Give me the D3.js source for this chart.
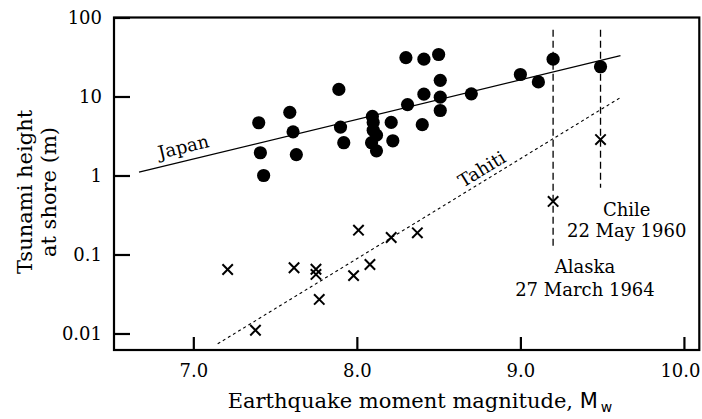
<!DOCTYPE html>
<html>
<head>
<meta charset="utf-8">
<script src="https://cdn.jsdelivr.net/npm/d3@7"></script>
<style>
  html, body { margin: 0; padding: 0; background: #fff; }
  text { font-family: "DejaVu Serif", serif; fill: #000; }
</style>
</head>
<body>
<svg id="chart" width="702" height="419"></svg>
<script>
// ---- data (magnitude Mw, tsunami height m) ----
const japanM = [7.40, 7.41, 7.43, 7.59, 7.61, 7.63, 7.89, 7.90, 7.92,
  8.095, 8.10, 8.10, 8.12, 8.09, 8.12, 8.21, 8.22, 8.30, 8.31, 8.40, 8.41, 8.41,
  8.50, 8.51, 8.51, 8.51, 8.70, 9.00, 9.11, 9.20, 9.49];
const japanH = [4.65, 1.94, 1.0, 6.3, 3.57, 1.84, 12.3, 4.1, 2.6,
  5.6, 4.7, 3.74, 3.24, 2.6, 2.05, 4.7, 2.75, 31, 7.9, 4.4, 29.7, 10.7,
  34, 16, 9.8, 6.65, 10.8, 19, 15.3, 29.7, 23.8];
const tahitiM = [7.21, 7.38, 7.616, 7.75, 7.75, 7.77, 7.98, 8.01, 8.08, 8.21, 8.37, 9.20, 9.49];
const tahitiH = [0.0646, 0.011, 0.068, 0.065, 0.056, 0.027, 0.054, 0.203, 0.0747, 0.164, 0.188, 0.47, 2.85];
const japanFitM = [6.668, 9.612];
const japanFitH = [1.10, 33];
const tahitiFitM = [7.149, 9.612];
const tahitiFitH = [0.0074, 9.7];
const eventNames = ["Alaska", "Chile"];
const eventDates = ["27 March 1964", "22 May 1960"];
const eventM = [9.2, 9.49];
const eventTopH = [70, 70];
const eventBottomH = [0.115, 0.70];
const xTicks = [7, 8, 9, 10];
const xTickLabels = ["7.0", "8.0", "9.0", "10.0"];
const yTicks = [100, 10, 1, 0.1, 0.01];
const yTickLabels = ["100", "10", "1", "0.1", "0.01"];

// ---- layout ----
const svg = d3.select("#chart");
const L = 114, R = 699.3, T = 17.5, B = 350;
const x = d3.scaleLinear().domain([6.515, 10.094]).range([L, R]);
const y = d3.scaleLog().domain([0.00618, 100]).range([B, T]);

// frame
svg.append("rect").attr("x", L).attr("y", T).attr("width", R - L).attr("height", B - T)
  .attr("fill", "none").attr("stroke", "#000").attr("stroke-width", 2.2);

// axes (inward ticks)
const xAxis = d3.axisBottom(x).tickValues(xTicks).tickFormat((d, i) => xTickLabels[i])
  .tickSizeInner(-13).tickSizeOuter(0).tickPadding(14);
const gx = svg.append("g").attr("transform", `translate(0,${B})`).call(xAxis);
gx.select(".domain").remove();
gx.selectAll("line").attr("stroke-width", 2.2);
gx.selectAll("text").attr("font-size", 18).attr("font-family", "DejaVu Serif")
  .attr("dx", (d, i) => i === xTicks.length - 1 ? -4 : 0);

const yAxis = d3.axisLeft(y).tickValues(yTicks).tickFormat((d, i) => yTickLabels[i])
  .tickSizeInner(-16).tickSizeOuter(0).tickPadding(12);
const gy = svg.append("g").attr("transform", `translate(${L},0)`).call(yAxis);
gy.select(".domain").remove();
gy.selectAll("line").attr("stroke-width", 2.2);
gy.selectAll("text").attr("font-size", 18).attr("font-family", "DejaVu Serif");

// fit lines
const line = d3.line().x(d => x(d[0])).y(d => y(d[1]));
const jFit = japanFitM.map((m, i) => [m, japanFitH[i]]);
const tFit = tahitiFitM.map((m, i) => [m, tahitiFitH[i]]);
svg.append("path").attr("d", line(jFit)).attr("fill", "none").attr("stroke", "#000").attr("stroke-width", 1.3);
svg.append("path").attr("d", line(tFit)).attr("fill", "none").attr("stroke", "#000").attr("stroke-width", 1.1)
  .attr("stroke-dasharray", "3,3");

// event vertical dashed lines
eventM.forEach((m, i) => {
  svg.append("line").attr("x1", x(m)).attr("x2", x(m))
    .attr("y1", y(eventTopH[i])).attr("y2", y(eventBottomH[i]))
    .attr("stroke", "#000").attr("stroke-width", 1.3).attr("stroke-dasharray", "7,4");
});

// Japan dots
svg.append("g").selectAll("circle").data(japanM.map((m, i) => [m, japanH[i]])).join("circle")
  .attr("cx", d => x(d[0])).attr("cy", d => y(d[1])).attr("r", 6.6).attr("fill", "#000");

// Tahiti crosses
const s = 5.2;
svg.append("g").selectAll("path").data(tahitiM.map((m, i) => [m, tahitiH[i]])).join("path")
  .attr("d", d => {
    const cx = x(d[0]), cy = y(d[1]);
    return `M${cx - s},${cy - s}L${cx + s},${cy + s}M${cx - s},${cy + s}L${cx + s},${cy - s}`;
  })
  .attr("stroke", "#000").attr("stroke-width", 2).attr("fill", "none");

// rotated line labels
function lineLabel(fit, m, text, offset) {
  const x0 = x(fit[0][0]), y0 = y(fit[0][1]), x1 = x(fit[1][0]), y1 = y(fit[1][1]);
  const ang = Math.atan2(y1 - y0, x1 - x0);
  const px = x(m), py = y0 + (y1 - y0) * (px - x0) / (x1 - x0);
  const ox = px + Math.sin(ang) * offset, oy = py - Math.cos(ang) * offset;
  svg.append("text").attr("transform", `translate(${ox},${oy}) rotate(${ang * 180 / Math.PI})`)
    .attr("text-anchor", "middle").attr("font-size", 18).text(text);
}
lineLabel(jFit, 6.96, "Japan", 8);
lineLabel(tFit, 8.80, "Tahiti", 5);

// event annotations
const annoM = [9.395, 9.65];
const annoY1 = [273, 216];
const annoY2 = [296, 237];
eventNames.forEach((n, i) => {
  svg.append("text").attr("x", x(annoM[i])).attr("y", annoY1[i]).attr("text-anchor", "middle")
    .attr("font-size", 18).text(n);
  svg.append("text").attr("x", x(annoM[i])).attr("y", annoY2[i]).attr("text-anchor", "middle")
    .attr("font-size", 18).text(eventDates[i]);
});

// axis titles
const xt = svg.append("text").attr("x", 420).attr("y", 408).attr("text-anchor", "middle").attr("font-size", 21);
xt.append("tspan").text("Earthquake moment magnitude, ");
xt.append("tspan").attr("font-family", "DejaVu Sans").text("M");
xt.append("tspan").attr("font-family", "DejaVu Sans").attr("font-size", 14).attr("dx", 3).attr("dy", 4).text("w");

const yt = svg.append("text").attr("transform", "translate(0,192) rotate(-90)").attr("text-anchor", "middle")
  .attr("font-size", 21);
yt.append("tspan").attr("x", 0).attr("y", 32).text("Tsunami height");
yt.append("tspan").attr("x", 0).attr("y", 56).text("at shore (m)");
</script>
</body>
</html>
